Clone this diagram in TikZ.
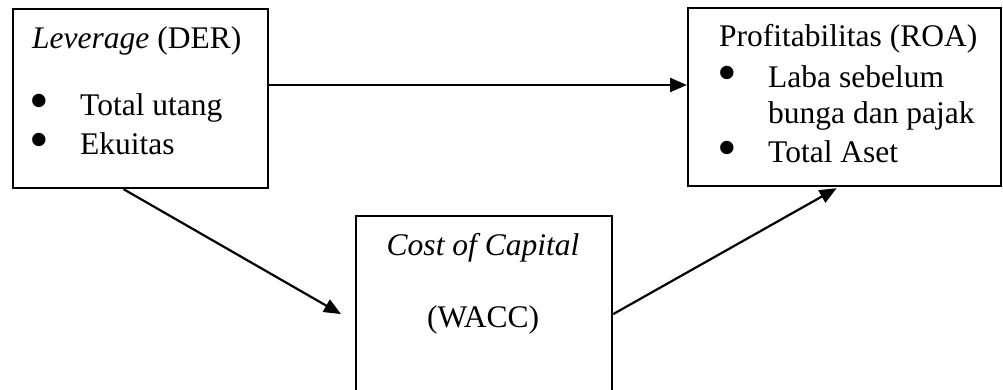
\documentclass[tikz,border=0pt]{standalone}
\usepackage{fontspec}
\setmainfont{Liberation Serif}
\usetikzlibrary{arrows.meta}

\begin{document}
\begin{tikzpicture}[x=1pt,y=-1pt,
  box/.style={draw,line width=2.2pt,inner sep=0pt,anchor=north west},
  txt/.style={anchor=base west,inner sep=0pt,font=\fontsize{31.5}{37.8}\selectfont},
  ctxt/.style={anchor=base,inner sep=0pt,font=\fontsize{31.5}{37.8}\selectfont},
  dot/.style={anchor=center,inner sep=0pt,font=\fontsize{56}{60}\selectfont},
  arr/.style={line width=2.2pt,-{Triangle[length=17pt,width=14pt]}}]
\path[use as bounding box] (0,0) rectangle (1003,389);
% boxes
\node[box,minimum width=255pt,minimum height=179pt] (lev) at (12,8) {};
\node[box,minimum width=313pt,minimum height=178pt] (prof) at (687,7) {};
\node[box,minimum width=256pt,minimum height=196pt] (wacc) at (355,215) {};
% leverage
\node[txt] (levtitle) at (32,48) {\textit{Leverage} (DER)};
\node[dot] (levb1) at (39,106.5) {•};
\node[txt] (levi1) at (80,115) {Total utang};
\node[dot] (levb2) at (39,145.5) {•};
\node[txt] (levi2) at (80,154) {Ekuitas};
% profitabilitas
\node[txt] (proftitle) at (719,46) {Profitabilitas (ROA)};
\node[dot] (profb1) at (727,78.5) {•};
\node[txt] (profi1) at (768,87) {Laba sebelum};
\node[txt] (profi1b) at (768,123) {bunga dan pajak};
\node[dot] (profb2) at (727,153.5) {•};
\node[txt] (profi2) at (768,162) {Total Aset};
% cost of capital
\node[ctxt] (wacctitle) at (483,255) {\textit{Cost of Capital}};
\node[ctxt] (waccsub) at (483,327) {(WACC)};
% arrows
\draw[arr] ([yshift=-77pt]lev.north east) -- ([yshift=-78pt]prof.north west);
\draw[arr] ([xshift=-17pt]lev.south) -- ([xshift=-14pt]wacc.west);
\draw[arr] (wacc.east) -- ([xshift=-8pt,yshift=-1pt]prof.south);
\end{tikzpicture}
\end{document}
